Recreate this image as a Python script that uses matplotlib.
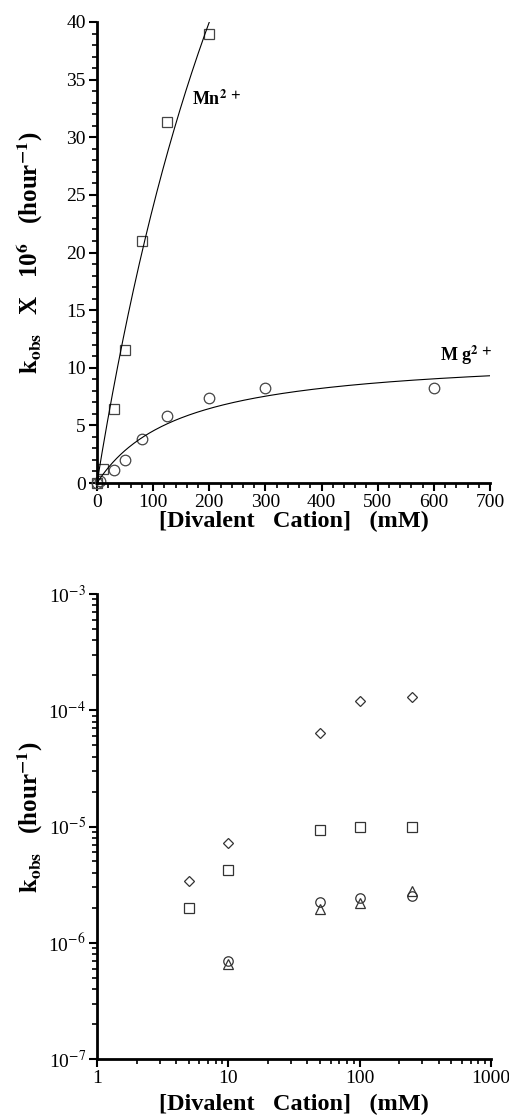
import numpy as np
import matplotlib
matplotlib.use("Agg")
import matplotlib.pyplot as plt
from matplotlib.ticker import MultipleLocator, LogLocator, FixedLocator, FixedFormatter, NullFormatter

plt.rcParams["font.family"] = ["Liberation Serif", "DejaVu Serif"]
plt.rcParams["mathtext.fontset"] = "stix"

# ---- Panel A: linear kinetics vs. cation concentration ----
mn_conc = [0, 10, 30, 50, 80, 125, 200]
mn_kobs = [0.0, 1.2, 6.4, 11.5, 21.0, 31.3, 39.0]

mg_conc = [0, 5, 30, 50, 80, 125, 200, 300, 600]
mg_kobs = [0.0, 0.2, 1.1, 2.0, 3.8, 5.8, 7.4, 8.2, 8.2]

# saturation (hyperbolic) fit parameters: k = kmax * c / (K + c)
mn_kmax, mn_K = 120.0, 400.0
mg_kmax, mg_K = 11.3, 150.0

# ---- Panel B: log-log data for four series ----
conc_diamond = [5, 10, 50, 100, 250]
k_diamond = [3.4e-6, 7.2e-6, 6.4e-5, 1.19e-4, 1.30e-4]

conc_square = [5, 10, 50, 100, 250]
k_square = [2.0e-6, 4.2e-6, 9.4e-6, 9.9e-6, 1.0e-5]

conc_circle = [10, 50, 100, 250]
k_circle = [6.95e-7, 2.25e-6, 2.45e-6, 2.5e-6]

conc_triangle = [10, 50, 100, 250]
k_triangle = [6.5e-7, 1.97e-6, 2.18e-6, 2.8e-6]

fig = plt.figure(figsize=(5.10, 11.18), dpi=100)
ax1 = fig.add_axes([97/510, 1 - 483/1118, 393/510, 461/1118])
ax2 = fig.add_axes([97/510, 1 - 1059/1118, 394/510, 465/1118])

for ax in (ax1, ax2):
    for s in ("top", "right"):
        ax.spines[s].set_visible(False)
    for s in ("left", "bottom"):
        ax.spines[s].set_linewidth(2.0)
    ax.tick_params(which="major", direction="out", length=6, width=1.5,
                   labelsize=14, pad=2)
    ax.tick_params(which="minor", direction="out", length=3.5, width=1.2)

# Panel A
mk = dict(mfc="none", mec="#444444", mew=0.9, ls="none", clip_on=False)
ax1.plot(mn_conc, mn_kobs, marker="s", ms=7.8, **mk)
ax1.plot(mg_conc, mg_kobs, marker="o", ms=7.6, **mk)

c_mn = np.linspace(0, 230, 200)
ax1.plot(c_mn, mn_kmax * c_mn / (mn_K + c_mn), color="black", lw=0.8)
c_mg = np.linspace(0, 700, 300)
ax1.plot(c_mg, mg_kmax * c_mg / (mg_K + c_mg), color="black", lw=0.8)

ax1.set_xlim(0, 700)
ax1.set_ylim(0, 40)
ax1.xaxis.set_major_locator(MultipleLocator(100))
ax1.xaxis.set_minor_locator(MultipleLocator(20))
ax1.yaxis.set_major_locator(MultipleLocator(5))
ax1.yaxis.set_minor_locator(MultipleLocator(1))

ax1.text(170, 33.3, r"Mn$^{\mathbf{2\ +}}$", fontsize=13, fontweight="bold",
         ha="left", va="center")
ax1.text(611, 11.1, r"M g$^{\mathbf{2\ +}}$", fontsize=13, fontweight="bold",
         ha="left", va="center")

xlabel_text = "[Divalent   Cation]   (mM)"
ax1.set_xlabel(xlabel_text, fontsize=17.5, fontweight="bold", labelpad=0)
ax1.set_ylabel(r"$\mathbf{k_{obs}}$   X   10$^{\mathbf{6}}$   (hour$^{\mathbf{-1}}$)",
               fontsize=18, fontweight="bold")
ax1.yaxis.set_label_coords(-0.132, 0.5)

# Panel B
mk2 = dict(mfc="none", mec="#333333", mew=0.9, ls="none")
ax2.plot(conc_diamond, k_diamond, marker="D", ms=5.5, **mk2)
ax2.plot(conc_square, k_square, marker="s", ms=7.4, **mk2)
ax2.plot(conc_circle, k_circle, marker="o", ms=6.8, **mk2)
ax2.plot(conc_triangle, k_triangle, marker="^", ms=6.8, **mk2)

ax2.set_xscale("log")
ax2.set_yscale("log")
ax2.set_xlim(1, 1000)
ax2.set_ylim(1e-7, 1e-3)
ax2.xaxis.set_major_locator(FixedLocator([1, 10, 100, 1000]))
ax2.xaxis.set_major_formatter(FixedFormatter(["1", "10", "100", "1000"]))
ax2.xaxis.set_minor_locator(LogLocator(base=10, subs=np.arange(2, 10)))
ax2.xaxis.set_minor_formatter(NullFormatter())
ax2.yaxis.set_major_locator(FixedLocator([1e-7, 1e-6, 1e-5, 1e-4, 1e-3]))
ax2.yaxis.set_major_formatter(FixedFormatter(
    [r"10$^{-7}$", r"10$^{-6}$", r"10$^{-5}$", r"10$^{-4}$", r"10$^{-3}$"]))
ax2.yaxis.set_minor_locator(LogLocator(base=10, subs=np.arange(2, 10)))
ax2.yaxis.set_minor_formatter(NullFormatter())

ax2.set_xlabel(xlabel_text, fontsize=17.5, fontweight="bold", labelpad=5)
ax2.set_ylabel(r"$\mathbf{k_{obs}}$   (hour$^{\mathbf{-1}}$)",
               fontsize=18, fontweight="bold")
ax2.yaxis.set_label_coords(-0.132, 0.52)

fig.savefig("out.png", dpi=100)
